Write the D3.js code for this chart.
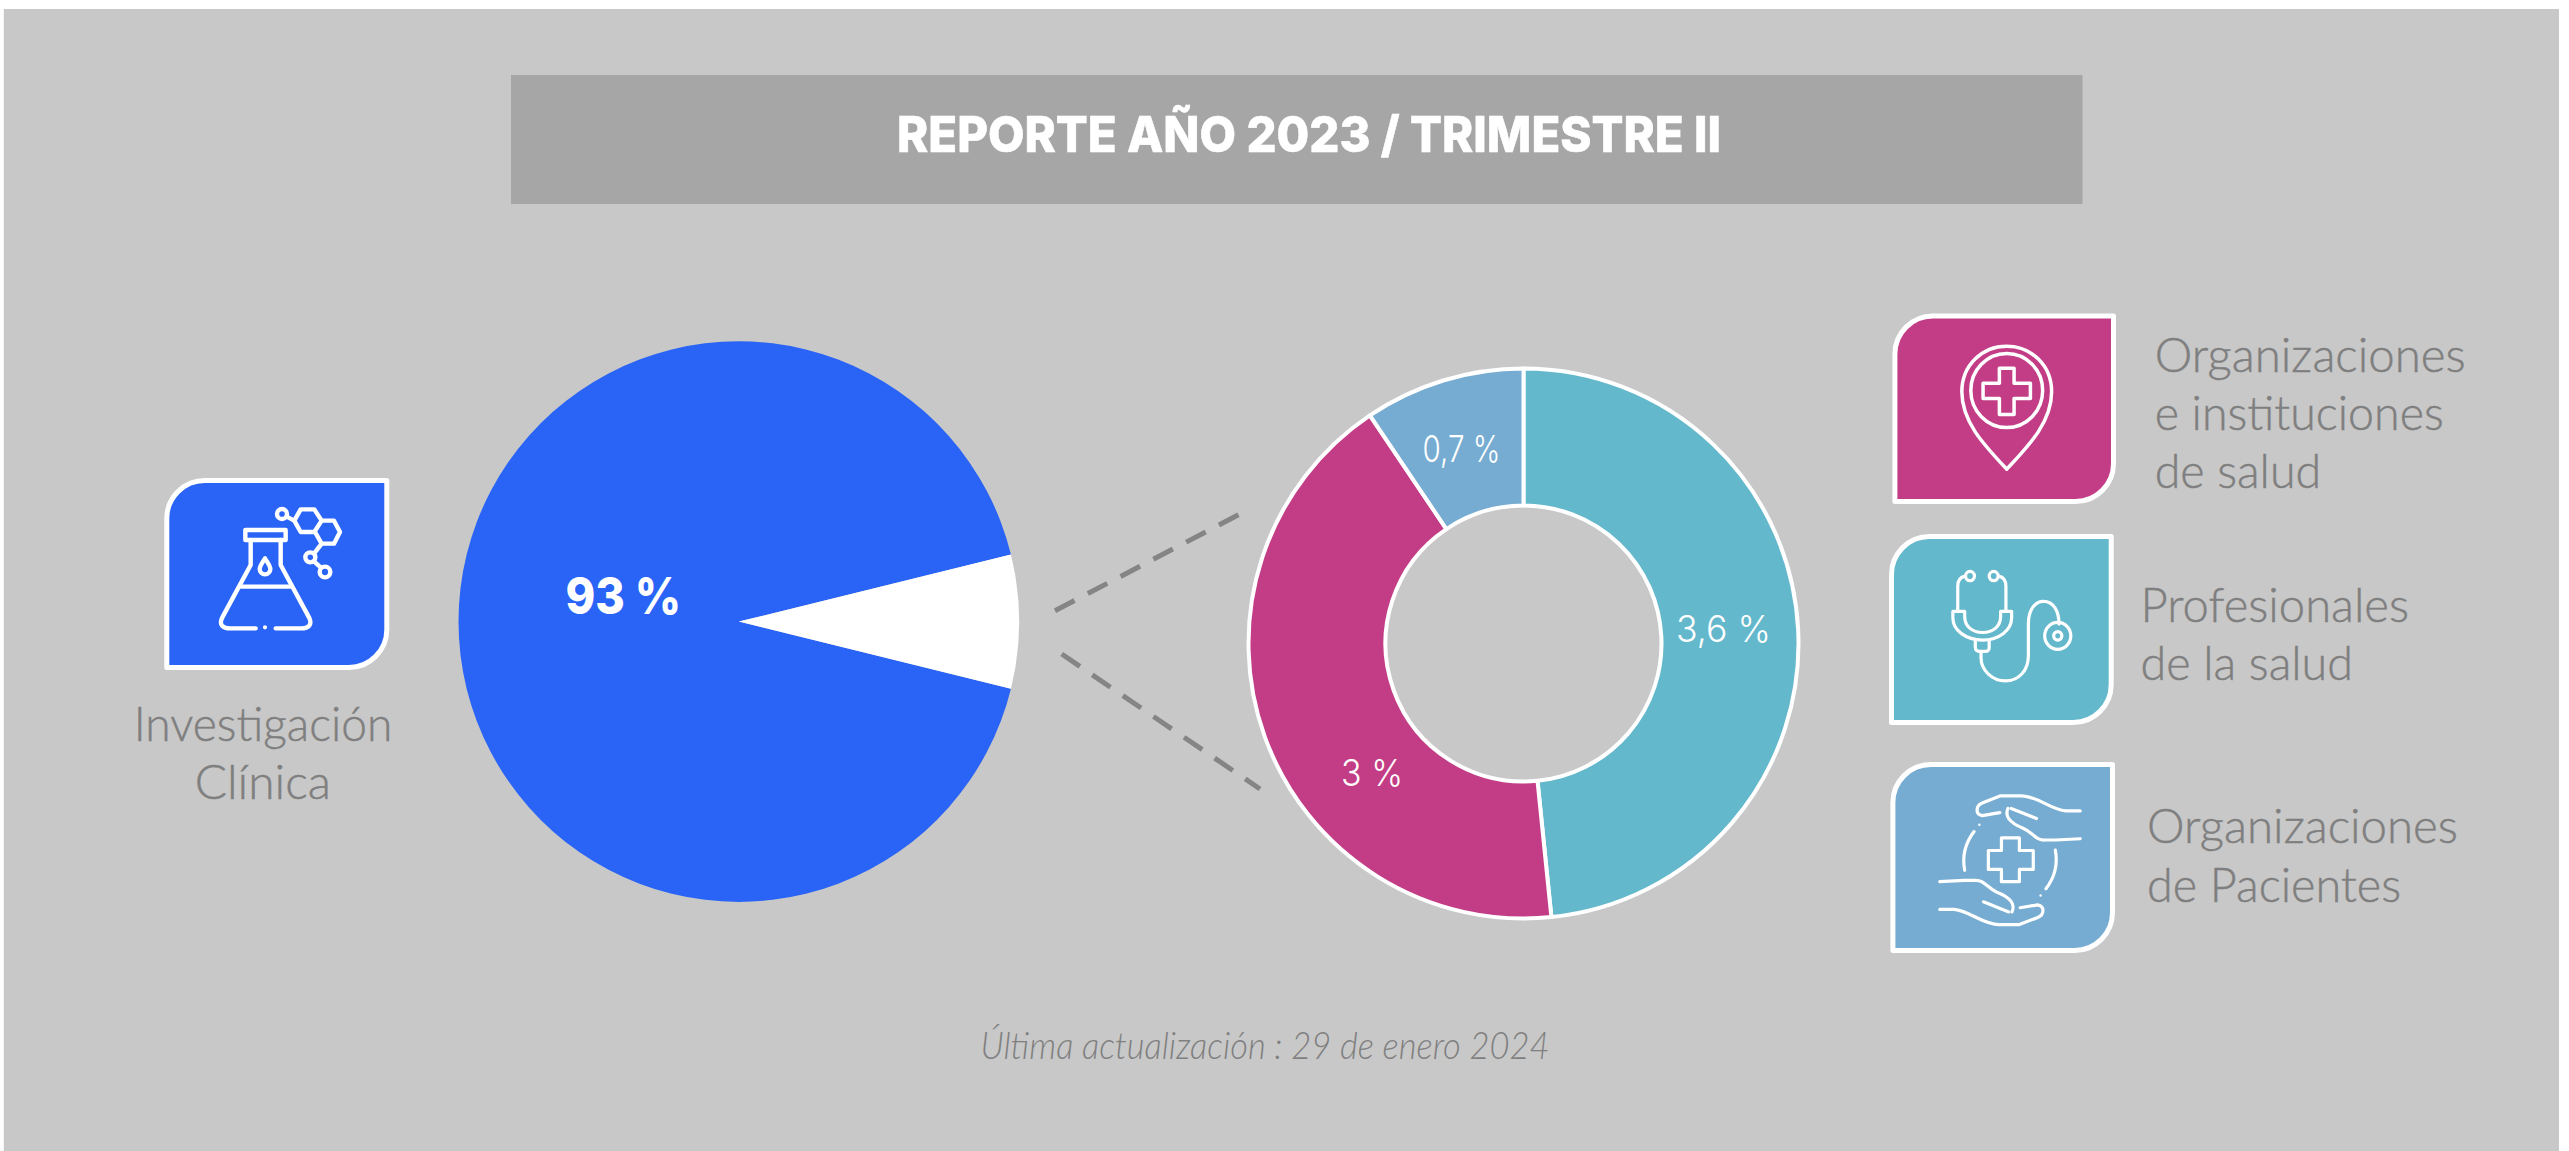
<!DOCTYPE html>
<html lang="es"><head><meta charset="utf-8">
<style>html,body{margin:0;padding:0;background:#fff}svg{display:block}</style>
<script src="https://cdn.jsdelivr.net/npm/d3@7/dist/d3.min.js"></script></head>
<body><svg id="c" width="2569" height="1151"></svg>
<script>
// ---- data ----
const titleText = "REPORTE AÑO 2023 / TRIMESTRE II";
const footerText = "Última actualización : 29 de enero 2024";
const mainCategories = ["Investigación Clínica", "Otros"];
const mainShares = [92.31, 7.69];            // slice sizes as drawn
const mainLabels = ["93 %", null];
const mainColors = ["#2a64f6", "#ffffff"];
const subCategories = ["Profesionales de la salud", "Organizaciones e instituciones de salud", "Organizaciones de Pacientes"];
const subShares = [3.59, 3.13, 0.7];         // slice sizes as drawn
const subLabels = ["3,6 %", "3 %", "0,7 %"];
const subColors = ["#64b8cc", "#c33d86", "#76acd1"];

const INK = "#7f7f7f", SANS = "Inter, 'Liberation Sans', sans-serif", GILL = "Lato, 'Open Sans', sans-serif";
const svg = d3.select("#c");
svg.append("rect").attr("x",3.8).attr("y",9).attr("width",2555.2).attr("height",1142).attr("fill","#c8c8c8");
svg.append("rect").attr("x",511).attr("y",75).attr("width",1571.5).attr("height",129).attr("fill","#a6a6a6");

function label(g,t,x,y,w,o={}){
  const n=g.append("text").attr("x",x).attr("y",y).text(t)
    .attr("font-family",o.family||GILL).attr("font-size",o.size||47).attr("font-weight",o.weight||300)
    .attr("fill",o.fill||INK).attr("font-style",o.style||"normal");
  if(o.thicken){n.attr("stroke",o.fill||INK).attr("stroke-width",o.thicken);}
  if(w) n.attr("textLength",w).attr("lengthAdjust","spacingAndGlyphs");
  return n;
}
label(svg,titleText,897,152,824,{family:SANS,size:50,weight:800,fill:"#fff",thicken:0.6});
label(svg,footerText,980.5,1059,569,{size:37,style:"italic",fill:"#808080"});

// main pie
const mainPie=d3.pie().sort(null).value(d=>d)
  .startAngle(103.84*Math.PI/180).endAngle((103.84+360)*Math.PI/180);
const mainArc=d3.arc().innerRadius(0).outerRadius(280.3);
const gMain=svg.append("g").attr("transform","translate(738.8,621.6)");
gMain.selectAll("path").data(mainPie(mainShares)).join("path")
  .attr("d",mainArc).attr("fill",(d,i)=>mainColors[i]);
label(svg,mainLabels[0],565.5,614,115.5,{family:SANS,size:51,weight:800,fill:"#fff"});

// donut
const subPie=d3.pie().sort(null).value(d=>d);
const subArc=d3.arc().innerRadius(138).outerRadius(275);
const gSub=svg.append("g").attr("transform","translate(1523.5,643.5)");
gSub.selectAll("path").data(subPie(subShares)).join("path")
  .attr("d",subArc).attr("fill",(d,i)=>subColors[i])
  .attr("stroke","#fff").attr("stroke-width",4).attr("stroke-linejoin","round");
[[1676,641.6,95],[1341,785.7,62],[1422.5,461.8,78]].forEach((p,i)=>
  label(svg,subLabels[i],p[0],p[1],p[2],{family:SANS,size:37,weight:300,fill:"#fff"}));

// connectors
[[1055,610.7,1240,514],[1061.7,654,1260,789]].forEach(l=>
  svg.append("line").attr("x1",l[0]).attr("y1",l[1]).attr("x2",l[2]).attr("y2",l[3])
    .attr("stroke","#858585").attr("stroke-width",5).attr("stroke-dasharray","22 15"));

// icon cards
function card(x0,y0,x1,y1,fill){
  const r=38,sw=5,a=x0+sw/2,b=y0+sw/2,c=x1-sw/2,d=y1-sw/2;
  svg.append("path").attr("d",`M${a+r},${b}H${c}V${d-r}A${r},${r} 0 0 1 ${c-r},${d}H${a}V${b+r}A${r},${r} 0 0 1 ${a+r},${b}Z`)
    .attr("fill",fill).attr("stroke","#fff").attr("stroke-width",sw).attr("stroke-linejoin","round");
}
card(164.3,478,389.3,670,mainColors[0]);
card(1892.4,313.5,2116,504,subColors[1]);
card(1889,534,2113.7,725,subColors[0]);
card(1890.4,762,2115,953,subColors[2]);

function icon(tf,sw){
  return svg.append("g").attr("transform",tf).attr("fill","none").attr("stroke","#fff")
    .attr("stroke-width",sw).attr("stroke-linecap","round").attr("stroke-linejoin","round");
}
function P(g,d){const p=g.append("path").attr("d",d).attr("vector-effect","non-scaling-stroke");return p;}
function C(g,x,y,r,rx){return g.append("ellipse").attr("cx",x).attr("cy",y).attr("rx",rx||r).attr("ry",r).attr("vector-effect","non-scaling-stroke");}

// flask
const f=icon("translate(130,450) scale(0.33333)",4.4);
P(f,"M346,240H467V270H346Z");
P(f,"M362,270V345L277,502C265,525 280,535 300,535H377");
P(f,"M452,270V345L537,502C549,525 534,535 514,535H437");
P(f,"M335,410H480");
P(f,"M405,325C396,340 389,348 389,357A16,16 0 0 0 421,357C421,348 414,340 405,325Z");
f.append("circle").attr("cx",405).attr("cy",532).attr("r",4).attr("fill","#fff");
P(f,"M512,178H553L575,212L553,246H512L493,212Z");
P(f,"M575,212H612L630,246L612,281H575L555,246");
C(f,456,192,15);P(f,"M470,200L493,212");
P(f,"M575,281L552,311");C(f,541,322,15);P(f,"M552,334L572,352");C(f,585,366,16);

// pin (coordinates in the zoomed reference crop)
const tf2="translate(1870,300) scale(0.40816,0.42088)";
const pin=icon(tf2,3.5);
P(pin,"M335,402C280,345 225,290 225,218C225,155 275,110 335,110C395,110 445,155 445,218C445,290 390,345 335,402Z");
C(pin,335,215,88,88);
P(pin,"M317,162H353V198H393V234H353V272H317V234H277V198H317Z");

// stethoscope
const st=icon(tf2,3.2);
C(st,245,656,11);C(st,303,656,11);
P(st,"M233,656C222,658 215,665 215,680V738");
P(st,"M315,656C326,658 333,665 333,680V738");
P(st,"M203,740H232V752C232,775 250,790 276,790C302,790 320,775 320,752V740H347V755C347,785 315,808 276,808C235,808 203,785 203,755Z");
P(st,"M258,808V825C258,832 262,835 270,835H282C288,835 292,832 292,825V808");
P(st,"M272,835V850C272,880 300,905 332,905C365,905 388,880 388,845V770C388,735 405,716 425,716C450,716 463,740 463,770");
C(st,460,798,32);C(st,460,798,10);

// hands
const hs=icon(tf2,3.2);
const hand=g=>{
  P(g,"M515,1214H480C440,1210 410,1178 370,1178H320L275,1195C258,1202 258,1222 275,1225L318,1218");
  P(g,"M346,1208L408,1232");
  P(g,"M338,1208C330,1225 340,1242 375,1255C400,1265 405,1285 430,1283H455L515,1280");
  P(g,"M255,1263Q222,1305 232,1355");
  g.append("circle").attr("cx",268).attr("cy",1247).attr("r",3).attr("fill","#fff").attr("stroke","none");
};
hand(hs);
hand(hs.append("g").attr("transform","translate(686,2662) scale(-1,-1)"));
P(hs,"M322,1278H366V1308H400V1353H366V1382H322V1353H290V1308H322Z");

// card captions
[["Investigación",133.7,741,258.6],["Clínica",194.7,799,136.3],
 ["Organizaciones",2154.7,371.5,311],["e instituciones",2154.7,429.6,289],["de salud",2154.7,488,166.5],
 ["Profesionales",2140.5,622,268.5],["de la salud",2140.5,680,212.5],
 ["Organizaciones",2147,843,311],["de Pacientes",2147,902,254]
].forEach(r=>label(svg,r[0],r[1],r[2],r[3],{thicken:0.45}));
</script></body></html>
